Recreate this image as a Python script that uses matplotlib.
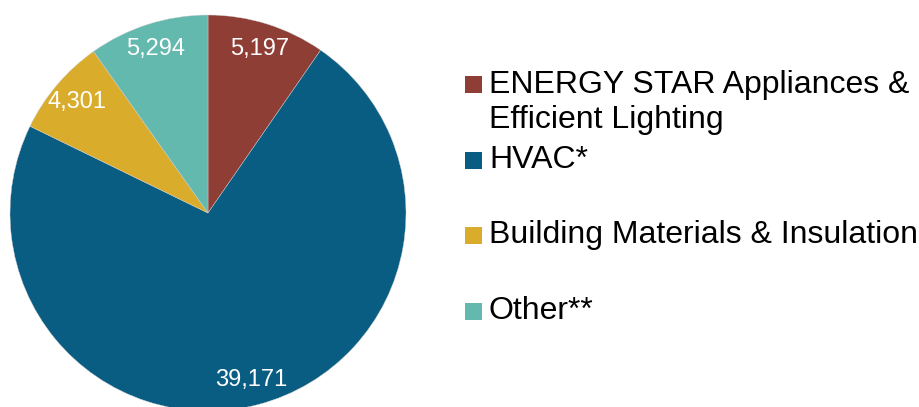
import matplotlib.pyplot as plt
from matplotlib.patches import Rectangle

# Data
categories = ["ENERGY STAR Appliances &\nEfficient Lighting", "HVAC*",
              "Building Materials & Insulation", "Other**"]
values = [5197, 39171, 4301, 5294]
colors = ["#8F3E35", "#0A5D82", "#D9AD2B", "#64B9AF"]

W, H = 920, 407
fig = plt.figure(figsize=(W / 100, H / 100), dpi=100)
plt.rcParams["font.family"] = ["Liberation Sans", "DejaVu Sans"]

# Pie axes: centre (208, 213) px, radius 198 px
cx, cy, r = 208, 213, 198
ax = fig.add_axes([(cx - r) / W, (H - cy - r) / H, 2 * r / W, 2 * r / H])
total = sum(values)
wedges, texts, autotexts = ax.pie(
    values, colors=colors, startangle=90, counterclock=False,
    autopct=lambda p: f"{p * total / 100:,.0f}", pctdistance=0.87,
    textprops=dict(color="white", fontsize=17),
    wedgeprops=dict(linewidth=0.3, edgecolor="#d0d0d0"))
ax.set_xlim(-1, 1)
ax.set_ylim(-1, 1)
ax.set_aspect("equal")
ax.axis("off")

# Manual legend: square centres in px from top
legend_y = [84, 160, 235, 311]
for label, color, y in zip(categories, colors, legend_y):
    fig.patches.append(Rectangle((465 / W, (H - y - 8.5) / H), 17 / W, 17 / H,
                                 transform=fig.transFigure, facecolor=color,
                                 edgecolor="none"))
    n_lines = label.count("\n") + 1
    text_y = y + (n_lines - 1) * 37 / 2
    fig.text(489 / W, (H - text_y) / H, label, fontsize=23, color="black",
             va="center", ha="left", linespacing=1.2)

plt.savefig("out.png", dpi=100)
plt.close()
